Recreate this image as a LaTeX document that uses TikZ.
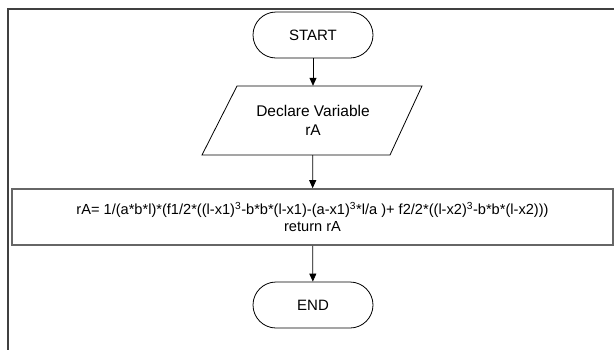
\documentclass[tikz,border=0pt]{standalone}
\usepackage{fontspec}
\setmainfont{Liberation Sans}
\usetikzlibrary{arrows.meta}
\begin{document}
\begin{tikzpicture}[x=1pt,y=-1pt,
  term/.style={draw, line width=0.8pt, rounded corners=23pt, minimum width=120pt, minimum height=46pt, inner sep=0pt, font=\fontsize{15}{17}\selectfont},
  procbox/.style={draw=gray!80!black, line width=1.6pt, minimum width=601pt, minimum height=56pt, inner sep=0pt, align=center, font=\fontsize{14.6}{16.5}\selectfont},
  iobox/.style={minimum width=150pt, minimum height=69pt, inner sep=0pt, align=center, font=\fontsize{15.5}{19}\selectfont},
  flow/.style={-{Triangle[length=8pt,width=7pt]}, line width=0.8pt}
]
\useasboundingbox (0,0) rectangle (614,349);
\draw[line width=1.4pt, draw=black!75] (616,9) -- (8,9) -- (8,351);
\node[term] (start) at (313,35) {START};
\node[iobox] (decl) at (313,120.5) {Declare Variable\\rA};
\draw[line width=0.8pt] (237,86) -- (422,86) -- (390,155) -- (202,155) -- cycle;
\node[procbox] (calc) at (312.5,217) {rA= 1/(a*b*l)*(f1/2*((l-x1)\textsuperscript{3}-b*b*(l-x1)-(a-x1)\textsuperscript{3}*l/a )+ f2/2*((l-x2)\textsuperscript{3}-b*b*(l-x2)))\\return rA};
\node[term] (end) at (313,305) {END};
\draw[flow] (start) -- (decl);
\draw[flow] (decl) -- (calc);
\draw[flow] (calc) -- (end);
\end{tikzpicture}
\end{document}
